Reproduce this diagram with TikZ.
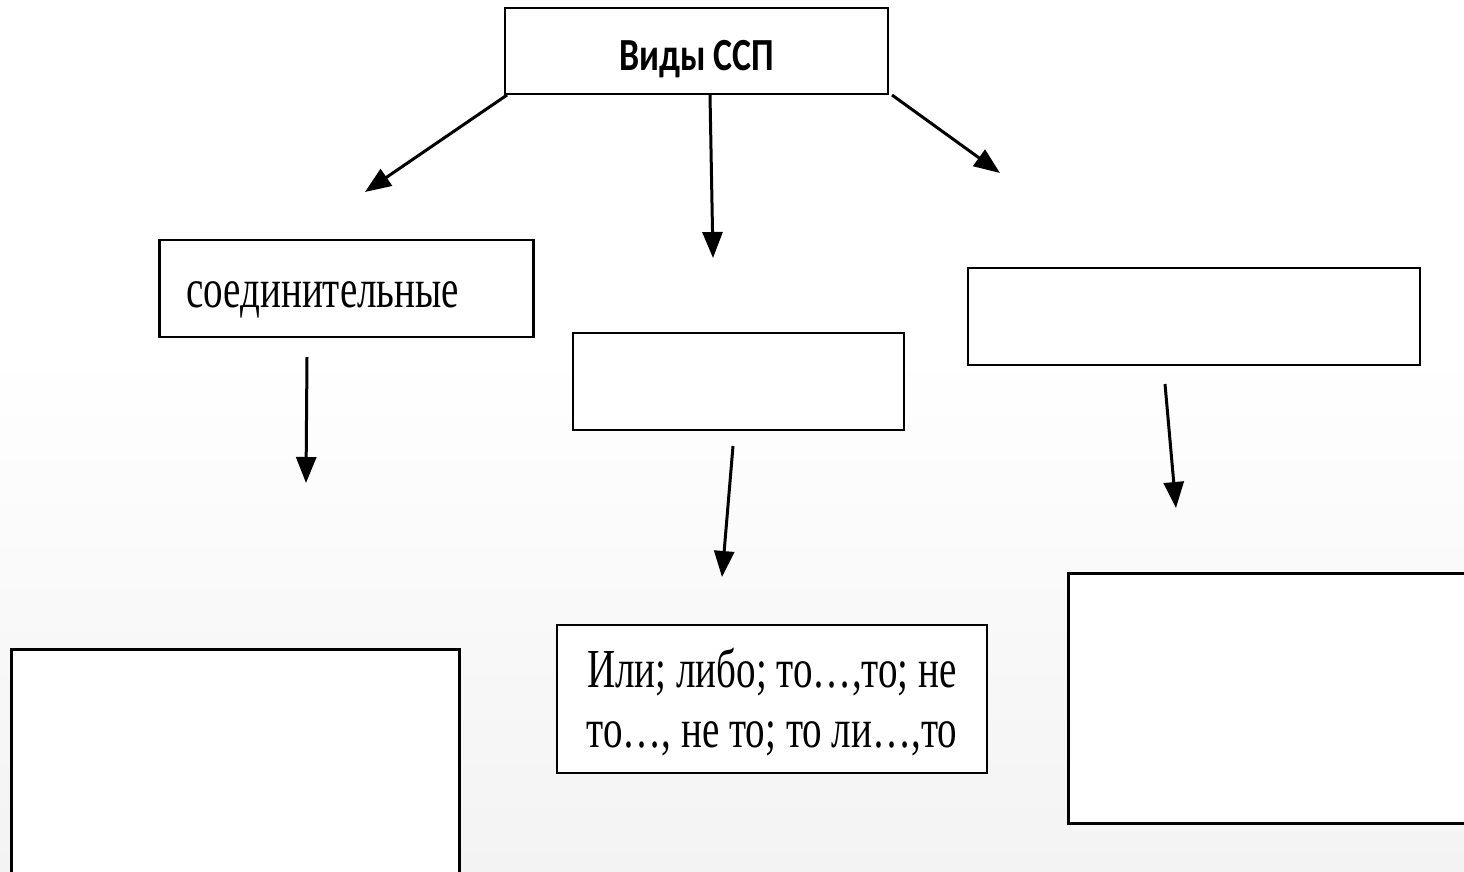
\documentclass[tikz,border=0pt]{standalone}
\usepackage{fontspec}
\setmainfont{Liberation Serif}
\newfontfamily\narrowserif[FakeStretch=0.71]{Liberation Serif}
\newfontfamily\boldsans[FakeStretch=0.78]{Carlito}
\usetikzlibrary{arrows.meta}
\definecolor{bgbottom}{RGB}{243,243,243}
\tikzset{
  box/.style={draw=black, fill=white, inner sep=0pt, line width=2.5pt},
  thinbox/.style={box, line width=2pt},
  thickbox/.style={box, line width=3.3pt},
  arr/.style={line width=3pt, -{Triangle[length=26pt,width=20pt]}},
  bodytext/.style={font=\narrowserif\fontsize{55}{60}\selectfont}
}
\begin{document}
\begin{tikzpicture}[x=1pt,y=-1pt]
\useasboundingbox (0,0) rectangle (1464,872);
\clip (0,0) rectangle (1464,872);
\fill[white] (0,0) rectangle (1464,351);
\shade[top color=white, bottom color=bgbottom] (0,350) rectangle (1464,872);

% top box
\node[thinbox, minimum width=383pt, minimum height=86pt,
      text height=42pt, text depth=2pt,
      font=\boldsans\bfseries\fontsize{46}{52}\selectfont]
  (top) at (696.5,51) {Виды ССП};

% second level
\node[box, minimum width=374pt, minimum height=97pt, anchor=west,
      text width=320pt, align=left, inner xsep=27pt,
      text height=40pt, text depth=3pt, bodytext]
  (soed) at (158,288.5) {соединительные};
\node[box, minimum width=331pt, minimum height=97pt] (mid) at (738.5,381.5) {};
\node[box, minimum width=452pt, minimum height=97pt] (right) at (1194,316.5) {};

% bottom level
\node[thickbox, minimum width=448pt, minimum height=280pt, anchor=north west]
  (bl) at (10,648) {};
\node[box, minimum width=430pt, minimum height=148pt,
      text height=122pt, text depth=26pt, align=center, bodytext]
  (bm) at (772,699) {Или; либо; то…,то; не\\то…, не то; то ли…,то};
\node[thickbox, minimum width=440pt, minimum height=250pt, anchor=north west]
  (br) at (1067,572) {};

% arrow end points
\coordinate (a1s) at (507,95);
\coordinate (a1e) at (365,192);
\coordinate (a2s) at (710,95);
\coordinate (a2e) at (713,258);
\coordinate (a3s) at (892,95);
\coordinate (a3e) at (1000,173);
\coordinate (b1s) at (307,357);
\coordinate (b1e) at (306,483);
\coordinate (b2s) at (733,446);
\coordinate (b2e) at (722,577);
\coordinate (b3s) at (1165,384);
\coordinate (b3e) at (1176,508);

\draw[arr] (a1s) -- (a1e);
\draw[arr] (a2s) -- (a2e);
\draw[arr] (a3s) -- (a3e);
\draw[arr] (b1s) -- (b1e);
\draw[arr] (b2s) -- (b2e);
\draw[arr] (b3s) -- (b3e);
\end{tikzpicture}
\end{document}
